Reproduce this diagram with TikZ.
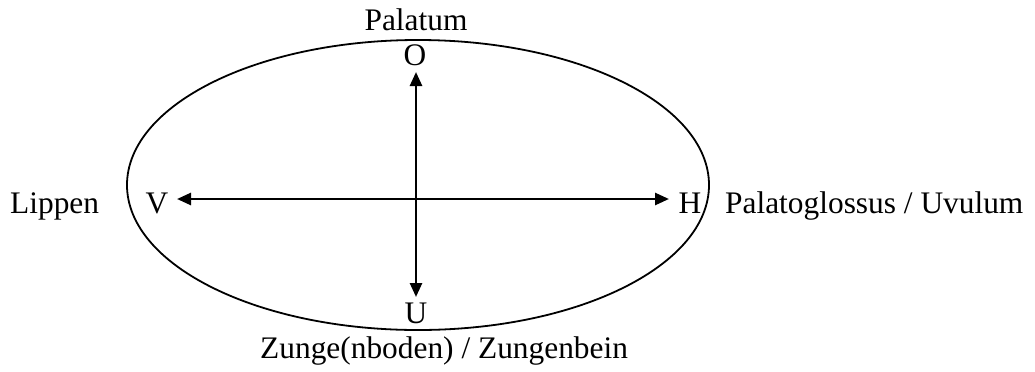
\documentclass[tikz,border=0pt]{standalone}
\usepackage{fontspec}
\setmainfont{Liberation Serif}
\usetikzlibrary{arrows.meta,shapes.geometric}

\begin{document}
\begin{tikzpicture}[x=1bp,y=-1bp,
  lbl/.style={inner sep=0pt,anchor=base,font=\fontsize{31.5}{36}\selectfont},
  axis/.style={line width=2.6bp,{Triangle[length=14bp,width=12bp]}-{Triangle[length=14bp,width=12bp]}}]
  \useasboundingbox (0,0) rectangle (1035,371);
  % Mundraum
  \node[ellipse,draw,line width=1.8bp,minimum width=582bp,minimum height=290bp,inner sep=0pt] (mouth) at (418,185) {};
  % Pole
  \node[lbl] (O) at (415,65) {O};
  \node[lbl] (U) at (416,323) {U};
  \node[lbl] (V) at (157,213) {V};
  \node[lbl] (H) at (690,213) {H};
  \coordinate (top) at (416,72);
  \coordinate (bot) at (416,297);
  \coordinate (left) at (177,199);
  \coordinate (right) at (669,199);
  \draw[axis] (top) -- (bot);
  \draw[axis] (left) -- (right);
  % Beschriftungen
  \node[lbl] (pal) at (416,30) {Palatum};
  \node[lbl,anchor=base west] (zun) at (260,358) {Zunge(nboden) / Zungenbein};
  \node[lbl,anchor=base west] (lip) at (10,213) {Lippen};
  \node[lbl,anchor=base west] (uvu) at (725,213) {Palatoglossus / Uvulum};
\end{tikzpicture}
\end{document}
